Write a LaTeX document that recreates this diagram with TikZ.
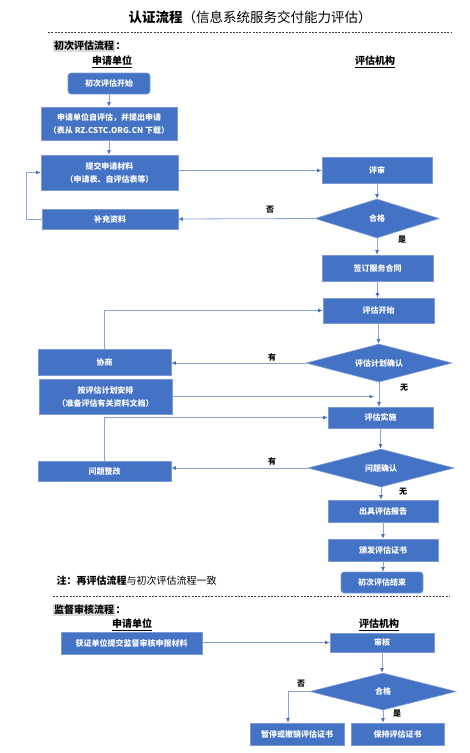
\documentclass[tikz,border=0pt]{standalone}
\usepackage{fontspec}
\setmainfont{Noto Sans CJK SC}
\usetikzlibrary{shapes.geometric,arrows.meta}
\definecolor{boxblue}{HTML}{4472C4}
\definecolor{edgeblue}{HTML}{7C9BD6}
\definecolor{lineblue}{HTML}{8AA4D8}

\begin{document}
\begin{tikzpicture}[x=1pt, y=-1pt,
    box/.style={draw=edgeblue, line width=0.6pt, fill=boxblue, text=white, align=center,
        inner sep=0pt, font=\fontsize{8}{13}\selectfont\bfseries},
    startbox/.style={box, rounded corners=3pt},
    decision/.style={diamond, box, aspect=3.5},
    flow/.style={lineblue, line width=0.8pt, -{Latex[length=4.5pt,width=4pt,color=boxblue]}},
    lbl/.style={font=\fontsize{8}{8}\selectfont\bfseries},
    head/.style={font=\fontsize{10}{10}\selectfont\bfseries},
    sep/.style={black!75, line width=0.9pt, dash pattern=on 2pt off 1.3pt}]
    \useasboundingbox (0,0) rectangle (470,753);

    % title
    \node[font=\fontsize{13.5}{14}\selectfont] (title) at (250,17) {{\bfseries 认证流程}（信息系统服务交付能力评估）};
    \draw[sep] (48,32) -- (452,32);

    % first assessment
    \node[head, fill=black!15, inner sep=1pt, anchor=west] (first) at (53,46) {初次评估流程};
    \node[head, anchor=west, inner sep=0pt] (firstcolon) at (first.east) {：};
    \node[head] (unitA) at (112,62) {\underline{申请单位}};
    \node[head] (orgA) at (375,62) {\underline{评估机构}};

    \node[startbox, minimum width=82pt, minimum height=21pt] (start) at (109,83.5) {初次评估开始};
    \node[box, minimum width=136pt, minimum height=33pt] (selfeval) at (109,123.5) {申请单位自评估，并提出申请\\（表从 RZ.CSTC.ORG.CN 下载）};
    \node[box, minimum width=137pt, minimum height=35pt] (submit) at (109.5,172.5) {提交申请材料\\（申请表、自评估表等）};
    \node[box, minimum width=110pt, minimum height=26pt] (review) at (377,170.5) {评审};
    \node[decision, minimum width=124pt, minimum height=39pt] (pass) at (377,218.5) {合格};
    \node[box, minimum width=136pt, minimum height=20pt] (supply) at (110,219) {补充资料};
    \node[box, minimum width=111pt, minimum height=26pt] (contract) at (377.5,268) {签订服务合同};
    \node[box, minimum width=111pt, minimum height=25pt] (evalstart) at (378.5,310.5) {评估开始};
    \node[decision, minimum width=146pt, minimum height=38pt] (plan) at (379,363) {评估计划确认};
    \node[box, minimum width=133pt, minimum height=26pt] (negotiate) at (104.5,362) {协商};
    \node[box, minimum width=133pt, minimum height=35pt] (arrange) at (105.5,396.5) {按评估计划安排\\（准备评估有关资料文档）};
    \coordinate (join) at (374,396.5);
    \node[box, minimum width=105pt, minimum height=21pt] (carryout) at (380.5,417.5) {评估实施};
    \node[decision, minimum width=146pt, minimum height=38pt] (issue) at (381,468) {问题确认};
    \node[box, minimum width=133pt, minimum height=20pt] (rectify) at (104.5,471) {问题整改};
    \node[box, minimum width=110pt, minimum height=22pt] (report) at (383,511) {出具评估报告};
    \node[box, minimum width=110pt, minimum height=22pt] (cert) at (383,550) {颁发评估证书};
    \node[startbox, minimum width=82pt, minimum height=21pt] (finish) at (382,582.5) {初次评估结束};

    \node[lbl] (no1) at (270,210) {否};
    \node[lbl] (yes1) at (402,240) {是};
    \node[lbl] (has1) at (272,357) {有};
    \node[lbl] (none1) at (404,388) {无};
    \node[lbl] (has2) at (272,461) {有};
    \node[lbl] (none2) at (403,492) {无};

    \draw[flow] (start.south) -- (start.south |- selfeval.north);
    \draw[flow] (selfeval.south) -- (selfeval.south |- submit.north);
    \draw[flow] (submit.east |- review.west) -- (review.west);
    \draw[flow] (review.south) -- (review.south |- pass.north);
    \draw[flow] (pass.west) -- (supply.east);
    \draw[flow] (supply.west) -- ++(-15,0) |- (submit.west);
    \draw[flow] (pass.south) -- (pass.south |- contract.north);
    \draw[flow] (contract.south) -- (contract.south |- evalstart.north);
    \draw[flow] (evalstart.south) -- (evalstart.south |- plan.north);
    \draw[flow] (plan.west) -- (plan.west -| negotiate.east);
    \draw[flow] (negotiate.north) |- (evalstart.west);
    \draw[flow] (plan.south) -- (plan.south |- carryout.north);
    \draw[flow] (arrange.east) -- (join);
    \draw[flow] (carryout.south) -- (carryout.south |- issue.north);
    \draw[flow] (issue.west) -- (issue.west -| rectify.east);
    \draw[flow] (rectify.north) |- (carryout.west);
    \draw[flow] (issue.south) -- (issue.south |- report.north);
    \draw[flow] (report.south) -- (report.south |- cert.north);
    \draw[flow] (cert.south) -- (cert.south |- finish.north);

    \node[font=\fontsize{10}{10}\selectfont, anchor=west] (note) at (53,581) {{\bfseries 注：再评估流程}与初次评估流程一致};
    \draw[sep] (53,596) -- (450,596);

    % surveillance audit
    \node[head, fill=black!15, inner sep=1pt, anchor=west] (second) at (53,610) {监督审核流程};
    \node[head, anchor=west, inner sep=0pt] (secondcolon) at (second.east) {：};
    \node[head] (unitB) at (132,625) {\underline{申请单位}};
    \node[head] (orgB) at (379,625) {\underline{评估机构}};

    \node[box, minimum width=141pt, minimum height=22pt] (material) at (131.5,643) {获证单位提交监督审核申报材料};
    \node[box, minimum width=104pt, minimum height=19pt] (audit) at (382,642.5) {审核};
    \node[decision, minimum width=146pt, minimum height=37pt] (pass2) at (383,691.5) {合格};
    \node[box, minimum width=94pt, minimum height=22pt] (suspend) at (297,734) {暂停或撤销评估证书};
    \node[box, minimum width=93pt, minimum height=22pt] (keep) at (397.5,734) {保持评估证书};
    \coordinate (turn) at (288,691.5);

    \node[lbl] (no2) at (301,684) {否};
    \node[lbl] (yes2) at (397,714) {是};

    \draw[flow] (material.east |- audit.west) -- (audit.west);
    \draw[flow] (audit.south) -- (audit.south |- pass2.north);
    \draw[flow] (pass2.west) -- (turn) -- (turn |- suspend.north);
    \draw[flow] (pass2.south) -- (pass2.south |- keep.north);
\end{tikzpicture}
\end{document}
